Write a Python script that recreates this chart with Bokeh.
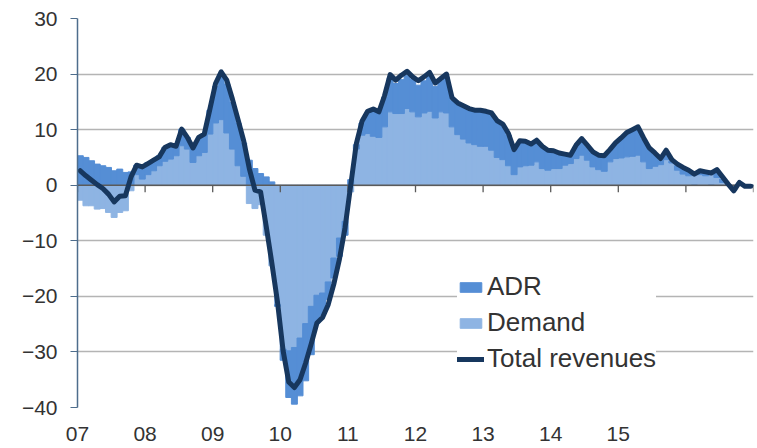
import numpy as np
from bokeh.plotting import figure
from bokeh.models import ColumnDataSource, FixedTicker, Legend, LegendItem
from bokeh.embed import file_html
from bokeh.resources import INLINE

# ---- data (monthly, Jan 2007 .. Dec 2016), % change y/y ----
year_labels = ["07", "08", "09", "10", "11", "12", "13", "14", "15"]

demand = (
    [-2.7, -3.7, -3.7, -4.3, -4.2, -4.9, -5.8, -4.9, -4.6, -1.0, 1.9, 1.1]        # 2007
    + [1.9, 2.6, 3.5, 4.3, 4.7, 5.3, 7.1, 6.5, 4.1, 5.3, 5.9, 9.2]              # 2008
    + [11.2, 11.8, 9.4, 6.5, 3.5, 1.6, -3.3, -4.2, -3.5, -9.0, -14.5, -21.5]    # 2009
    + [-29.5, -29.8, -29.2, -27.5, -24.9, -21.8, -19.8, -19.4, -17.4, -13.1, -9.5, -6.5]  # 2010
    + [-1.2, 6.5, 9.0, 9.3, 8.8, 8.6, 10.5, 13.2, 12.9, 12.9, 13.8, 13.2]       # 2011
    + [12.3, 13.0, 13.3, 12.1, 13.2, 13.0, 10.5, 9.1, 8.3, 7.6, 7.3, 7.0]       # 2012
    + [7.0, 6.3, 5.0, 4.6, 3.5, 1.9, 3.3, 3.5, 3.6, 4.2, 3.0, 2.7]              # 2013
    + [3.0, 3.0, 3.6, 3.9, 4.8, 5.4, 4.5, 3.3, 2.8, 2.5, 4.2, 4.8]              # 2014
    + [4.9, 5.1, 5.2, 5.4, 4.2, 3.0, 3.4, 3.7, 4.6, 4.0, 2.7, 2.0]              # 2015
    + [1.7, 1.9, 1.9, 1.7, 2.3, 1.4, 0.5, 0.0, -0.5, 0.2, -0.2, -0.2]           # 2016
)

adr = (
    [5.3, 5.0, 4.4, 3.8, 3.5, 3.2, 2.6, 2.9, 2.3, 2.4, 1.7, 2.2]
    + [2.2, 1.9, 1.8, 2.5, 2.6, 2.1, 3.0, 2.1, 2.7, 3.0, 3.3, 4.3]
    + [6.6, 8.2, 8.8, 8.4, 7.7, 6.0, 4.5, 3.0, 2.1, 1.5, 0.6, -0.3]
    + [-2.0, -8.4, -10.2, -10.4, -10.3, -8.7, -5.0, -4.0, -3.2, -3.6, -3.3, -2.5]
    + [1.0, 0.8, 2.2, 3.7, 4.6, 4.3, 5.3, 6.1, 5.4, 6.1, 6.0, 5.8]
    + [5.7, 5.8, 6.3, 5.7, 5.6, 6.4, 4.8, 5.4, 5.7, 5.9, 5.9, 6.2]
    + [6.0, 6.4, 6.3, 6.1, 5.5, 4.2, 4.4, 4.1, 3.5, 3.6, 3.7, 3.3]
    + [2.9, 2.5, 1.7, 1.2, 2.1, 2.7, 2.4, 2.4, 2.3, 2.5, 1.9, 2.5]
    + [3.3, 4.1, 4.5, 4.8, 4.0, 3.4, 2.1, 0.8, 1.4, 0.3, 0.8, 0.9]
    + [0.8, 0.0, 0.5, 0.5, 0.0, 1.2, 0.6, 0.1, -0.4, 0.2, 0.0, 0.0]
)

total = (
    [2.6, 1.7, 0.9, 0.1, -0.6, -1.6, -3.0, -2.0, -1.9, 1.5, 3.6, 3.3]
    + [3.9, 4.5, 5.1, 6.8, 7.3, 7.0, 10.1, 8.6, 6.7, 8.6, 9.2, 13.7]
    + [18.3, 20.4, 18.9, 15.5, 11.8, 8.0, 3.0, -0.9, -1.2, -7.4, -14.0, -21.0]
    + [-29.8, -35.4, -36.4, -35.0, -32.0, -28.5, -24.8, -23.8, -21.5, -17.8, -13.3, -7.6]
    + [0.0, 7.5, 11.5, 13.3, 13.7, 13.2, 16.1, 19.9, 18.9, 19.8, 20.5, 19.5]
    + [18.8, 19.5, 20.3, 18.4, 19.2, 20.0, 15.7, 14.8, 14.3, 13.8, 13.5, 13.5]
    + [13.3, 13.0, 11.6, 11.0, 9.3, 6.4, 8.0, 7.9, 7.4, 8.1, 7.0, 6.3]
    + [6.2, 5.8, 5.6, 5.4, 7.2, 8.4, 7.2, 6.0, 5.4, 5.3, 6.4, 7.6]
    + [8.5, 9.5, 10.0, 10.5, 8.5, 6.7, 5.8, 4.8, 6.3, 4.6, 3.8, 3.2]
    + [2.7, 2.0, 2.6, 2.4, 2.2, 2.8, 1.5, 0.2, -1.0, 0.5, -0.2, -0.2]
)

# ---- derived stacking (Excel style: positives up from 0, negatives down) ----
d = np.array(demand)
a = np.array(adr)
n = len(d)
x = np.arange(n) + 0.5
same = (np.sign(a) == np.sign(d))
a_bottom = np.where(same, d, 0.0)
a_top = a_bottom + a

src = ColumnDataSource(dict(x=x, d=d, zero=np.zeros(n), a_bottom=a_bottom,
                            a_top=a_top, total=np.array(total)))

FONT = "Liberation Sans"
ADR_C = "#558ED5"
DEM_C = "#8EB4E3"
LINE_C = "#17375E"

p = figure(width=755, height=446, x_range=(0, n), y_range=(-40, 30),
           output_backend="svg", toolbar_location=None,
           min_border_left=77, min_border_right=2, min_border_top=18,
           min_border_bottom=39)
p.outline_line_color = None
p.background_fill_color = "white"

# grid
p.xgrid.visible = False
yt = FixedTicker(ticks=list(range(-40, 31, 10)))
p.yaxis.ticker = yt
p.ygrid.ticker = yt
p.ygrid.grid_line_color = "#B4B4B4"
p.ygrid.grid_line_width = 1.3

# bars (slight overlap + outline in the same colour closes anti-aliasing seams)
r_dem = p.vbar(x="x", width=1.06, bottom="zero", top="d", source=src,
               fill_color=DEM_C, line_color=DEM_C, line_width=1)
r_adr = p.vbar(x="x", width=1.06, bottom="a_bottom", top="a_top", source=src,
               fill_color=ADR_C, line_color=ADR_C, line_width=1)

# zero axis line with year ticks
year_pos = np.arange(0, n + 1, 12)
p.line(x=[0, n], y=[0, 0], line_color="#5A5A5A", line_width=1.5)
p.segment(x0=year_pos, y0=np.zeros(len(year_pos)), x1=year_pos,
          y1=np.full(len(year_pos), -1.25), line_color="#5A5A5A", line_width=1.3)

# total revenues
r_tot = p.line(x="x", y="total", source=src, line_color=LINE_C, line_width=5,
               line_join="round", line_cap="round")

# y axis
p.yaxis.axis_line_color = "#4E6D8C"
p.yaxis.axis_line_width = 1.5
p.yaxis.major_tick_line_color = "#4E6D8C"
p.yaxis.major_tick_out = 7
p.yaxis.major_tick_in = 0
p.yaxis.minor_tick_line_color = None
p.yaxis.major_label_standoff = 13
p.yaxis.major_label_text_font = FONT
p.yaxis.major_label_text_font_size = "21px"
p.yaxis.major_label_text_color = "#333333"

# x axis (labels only, at the bottom)
p.xaxis.ticker = FixedTicker(ticks=[int(v) for v in year_pos[:len(year_labels)]])
p.xaxis.major_label_overrides = {int(v): lab for v, lab in zip(year_pos, year_labels)}
p.xaxis.axis_line_color = None
p.xaxis.major_tick_line_color = None
p.xaxis.minor_tick_line_color = None
p.xaxis.major_label_standoff = 13
p.xaxis.major_label_text_font = FONT
p.xaxis.major_label_text_font_size = "21px"
p.xaxis.major_label_text_color = "#333333"

legend = Legend(items=[LegendItem(label="ADR", renderers=[r_adr]),
                       LegendItem(label="Demand", renderers=[r_dem]),
                       LegendItem(label="Total revenues", renderers=[r_tot])],
                location=(380, 33))
legend.label_text_font = FONT
legend.label_text_font_size = "26px"
legend.label_text_color = "#333333"
legend.glyph_width = 27
legend.glyph_height = 12
legend.label_standoff = 3
legend.label_height = 22
legend.spacing = 5
legend.padding = 25
legend.margin = 0
legend.border_line_color = None
legend.background_fill_color = "white"
legend.background_fill_alpha = 1.0
p.add_layout(legend)

open("out.html", "w").write(file_html(p, INLINE))
